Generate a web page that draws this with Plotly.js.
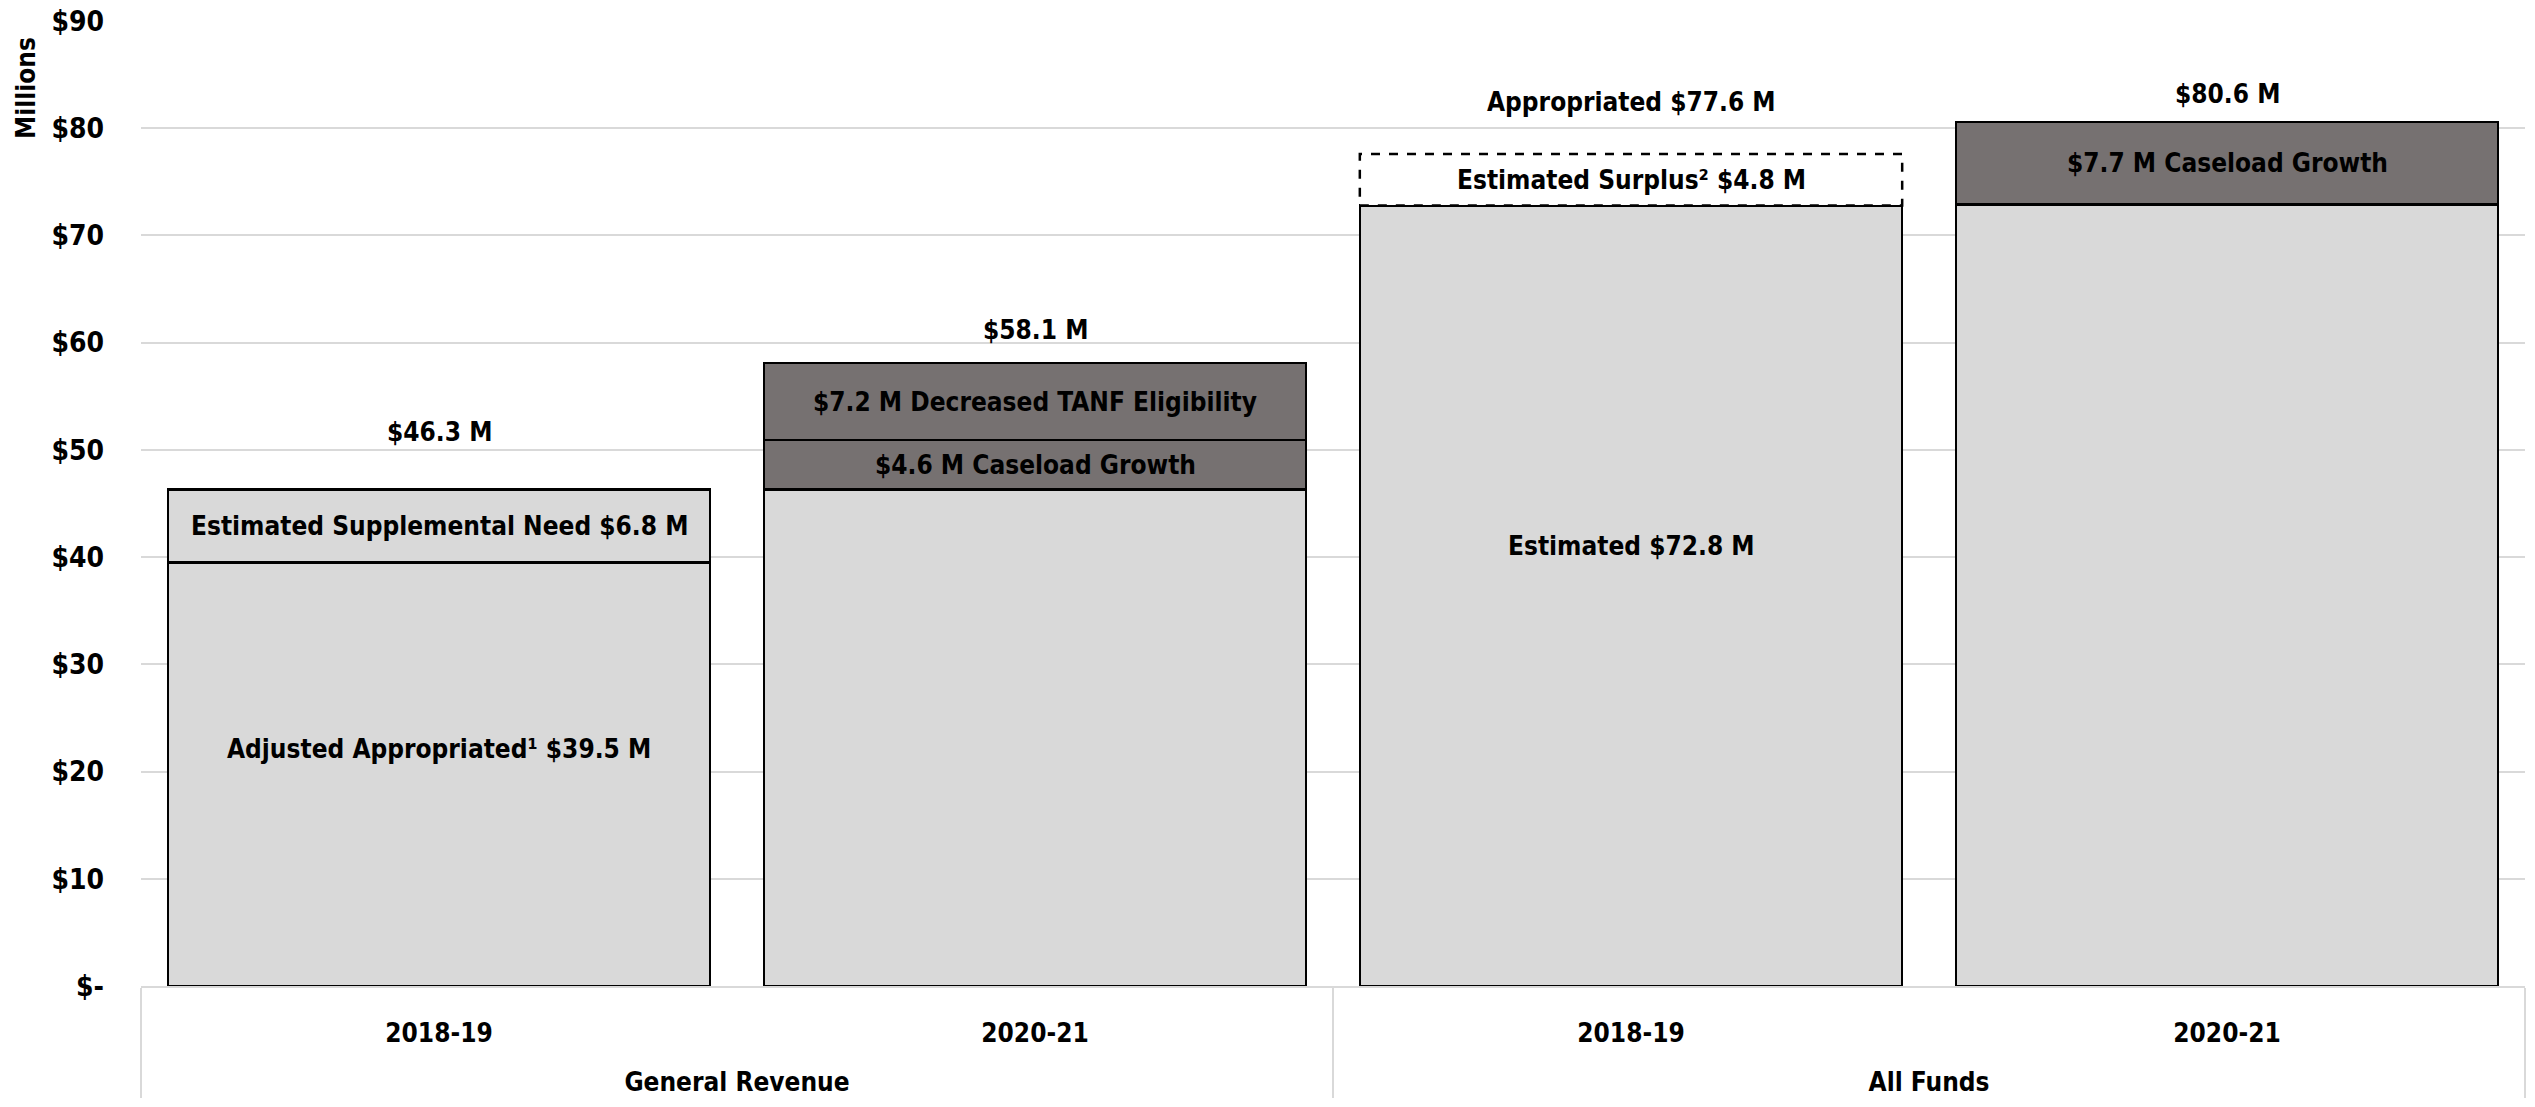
<!DOCTYPE html>
<html>
<head>
<meta charset="utf-8">
<script src="https://cdn.plot.ly/plotly-3.0.1.min.js"></script>
<style>html,body{margin:0;padding:0;background:#fff;}#chart{width:2535px;height:1107px;}</style>
</head>
<body>
<div id="chart"></div>
<script>
// ---- data ----
const groups = ["General Revenue", "General Revenue", "All Funds", "All Funds"];
const years = ["2018-19", "2020-21", "2018-19", "2020-21"];
const baseValues = [39.5, 46.3, 72.8, 72.9];
const secondValues = [6.8, 4.6, 4.8, 7.7];
const thirdValues = [null, 7.2, null, null];
const totals = [46.3, 58.1, 77.6, 80.6];
const totalLabels = ["$46.3 M", "$58.1 M", "Appropriated $77.6 M", "$80.6 M"];
const baseLabels = ["Adjusted Appropriated\u00b9 $39.5 M", "", "Estimated $72.8 M", ""];
const secondLabels = ["Estimated Supplemental Need $6.8 M", "$4.6 M Caseload Growth", "Estimated Surplus\u00b2 $4.8 M", "$7.7 M Caseload Growth"];
const thirdLabels = ["", "$7.2 M Decreased TANF Eligibility", "", ""];
const yTickVals = [0, 10, 20, 30, 40, 50, 60, 70, 80, 90];
const yTickText = ["$-", "$10", "$20", "$30", "$40", "$50", "$60", "$70", "$80", "$90"];
const secondKinds = ["light", "dark", "surplus", "dark"];

// ---- style ----
const LIGHT = "#d9d9d9", DARK = "#767171", GRID = "#d9d9d9";
const FONT = "'Liberation Sans Narrow', 'Arial Narrow', 'DejaVu Sans Condensed', sans-serif";
const fontObj = {family: FONT, size: 26, color: "#000", weight: 700};
const kindFill = {light: LIGHT, dark: DARK, surplus: "rgba(255,255,255,1)"};
const kindLine = {light: "#000", dark: "#000", surplus: "rgba(0,0,0,0)"};
const baseShift = [25, 0, 50, 0];
const totalShift = [58, 33, 52, 28];
const HALF = 0.455;

// blank spacer line under the year labels pushes the group labels lower, as in the reference
const SPACER = "<br><span style='font-size:52px'>\u00a0</span>";
const x = [groups, years.map(y => y + SPACER)];
const idx = years.map((_, i) => i);

const traces = [
  {type: "bar", x: x, y: baseValues, marker: {color: LIGHT, line: {color: "#000", width: 2.5}}, hoverinfo: "none"},
  {type: "bar", x: x, y: secondValues,
   marker: {color: secondKinds.map(k => kindFill[k]), line: {color: secondKinds.map(k => kindLine[k]), width: 2.5}}, hoverinfo: "none"},
  {type: "bar", x: x, y: thirdValues, marker: {color: DARK, line: {color: "#000", width: 2.5}}, hoverinfo: "none"}
];

const annotations = [];
idx.forEach(i => {
  const b = baseValues[i], s = secondValues[i] || 0, t = thirdValues[i] || 0;
  if (baseLabels[i]) annotations.push({xref: "x2", yref: "y", x: i, y: b / 2, text: baseLabels[i], showarrow: false, font: fontObj, yshift: baseShift[i]});
  if (secondLabels[i]) annotations.push({xref: "x2", yref: "y", x: i, y: b + s / 2, text: secondLabels[i], showarrow: false, font: fontObj});
  if (thirdLabels[i]) annotations.push({xref: "x2", yref: "y", x: i, y: b + s + t / 2, text: thirdLabels[i], showarrow: false, font: fontObj});
  annotations.push({xref: "x2", yref: "y", x: i, y: totals[i], text: totalLabels[i], showarrow: false, font: fontObj, yshift: totalShift[i]});
});
annotations.push({xref: "paper", yref: "paper", x: -0.048, y: 0.985, xanchor: "center", yanchor: "top", textangle: -90,
  text: "Millions", showarrow: false, font: {family: FONT, size: 26, color: "#000", weight: 700}});

const shapes = [];
idx.forEach(i => {
  if (secondKinds[i] === "surplus") {
    shapes.push({type: "rect", xref: "x2", yref: "y", x0: i - HALF, x1: i + HALF, y0: baseValues[i], y1: baseValues[i] + secondValues[i],
      line: {color: "#000", width: 2.5, dash: "dash"}, fillcolor: "rgba(0,0,0,0)", layer: "above"});
  }
});

const layout = {
  width: 2535, height: 1107,
  margin: {l: 141, r: 10, t: 21, b: 121},
  paper_bgcolor: "#fff", plot_bgcolor: "#fff",
  barmode: "stack", bargap: 0.09,
  showlegend: false,
  font: fontObj,
  xaxis: {type: "multicategory", range: [-0.5, 3.5], showgrid: false, zeroline: false,
    showline: true, linecolor: GRID, linewidth: 2,
    showdividers: true, dividercolor: GRID, dividerwidth: 2,
    tickfont: fontObj, ticks: "", ticklabelstandoff: 23, fixedrange: true},
  xaxis2: {overlaying: "x", range: [-0.5, 3.5], visible: false, fixedrange: true},
  yaxis: {range: [0, 90], tickvals: yTickVals, ticktext: yTickText, showgrid: true, gridcolor: GRID, gridwidth: 2,
    zeroline: false, showline: false, ticks: "", ticklabelstandoff: 36, tickfont: {family: FONT, size: 28, color: "#000", weight: 700}, fixedrange: true},
  annotations: annotations,
  shapes: shapes
};

Plotly.newPlot("chart", traces, layout, {displayModeBar: false, staticPlot: true});
</script>
</body>
</html>
